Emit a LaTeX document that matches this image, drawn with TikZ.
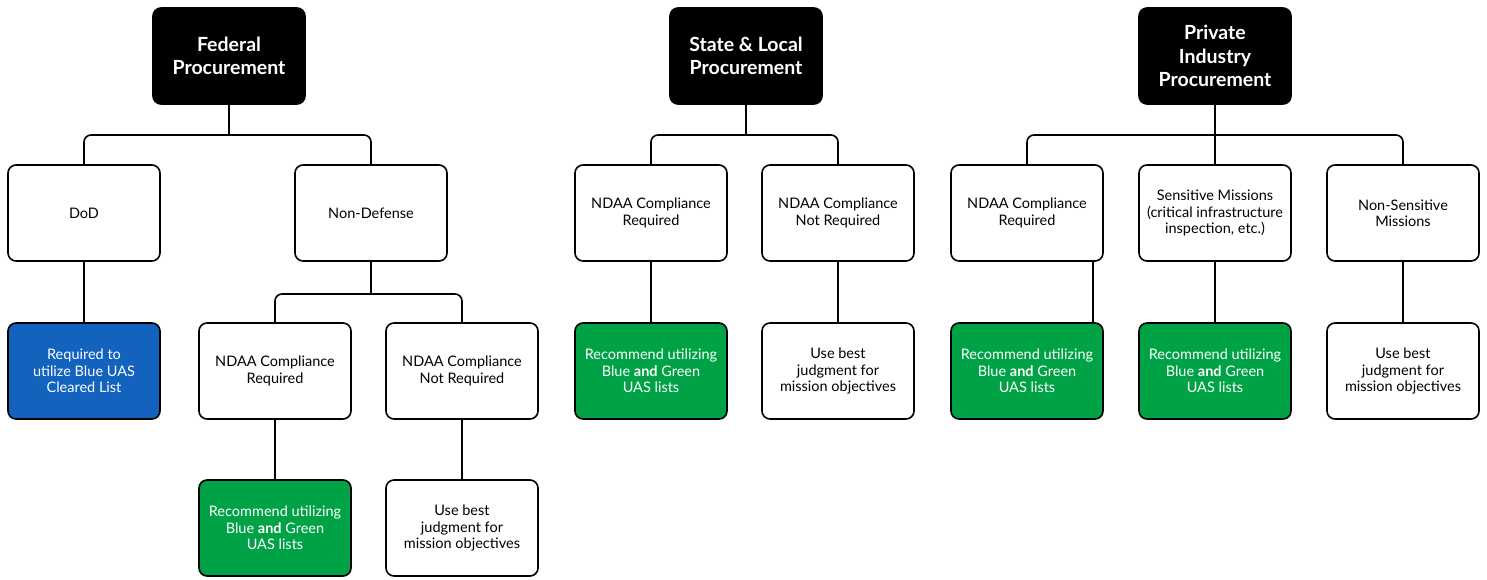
\documentclass[tikz,border=0pt]{standalone}
\usepackage{fontspec}
\setmainfont{Lato}
\definecolor{uasblue}{HTML}{1262BE}
\definecolor{uasgreen}{HTML}{00A246}
\begin{document}
\begin{tikzpicture}[x=1pt,y=-1pt,
  box/.style={draw=black, line width=1.6pt, rounded corners=8pt, fill=white,
    minimum width=152pt, minimum height=96pt, inner sep=2pt, align=center,
    text=black, font=\fontsize{14.5}{16.5}\selectfont},
  head/.style={box, fill=black, text=white, font=\bfseries\fontsize{19.5}{23.5}\selectfont},
  bluebox/.style={box, fill=uasblue, text=white},
  greenbox/.style={box, fill=uasgreen, text=white},
  conn/.style={draw=black, line width=1.6pt, rounded corners=7pt}]
\useasboundingbox (0,0) rectangle (1487,579);
% level 1
\node[head] (fed) at (229,56) {Federal\\Procurement};
\node[head] (sl) at (746,56) {State \& Local\\Procurement};
\node[head] (pi) at (1215,56) {Private\\Industry\\Procurement};
% level 2
\node[box] (dod) at (84,213) {DoD};
\node[box] (nd) at (371,213) {Non-Defense};
\node[box] (slr) at (651,213) {NDAA Compliance\\Required};
\node[box] (sln) at (838,213) {NDAA Compliance\\Not Required};
\node[box] (pr) at (1027,213) {NDAA Compliance\\Required};
\node[box] (ps) at (1215,213) {Sensitive Missions\\(critical infrastructure\\inspection, etc.)};
\node[box] (pns) at (1403,213) {Non-Sensitive\\Missions};
% level 3
\node[bluebox] (blue) at (84,371) {Required to\\utilize Blue UAS\\Cleared List};
\node[box] (ndr) at (275,371) {NDAA Compliance\\Required};
\node[box] (ndn) at (462,371) {NDAA Compliance\\Not Required};
\node[greenbox] (slg) at (651,371) {Recommend utilizing\\Blue \textbf{and} Green\\UAS lists};
\node[box] (slw) at (838,371) {Use best\\judgment for\\mission objectives};
\node[greenbox] (pg1) at (1027,371) {Recommend utilizing\\Blue \textbf{and} Green\\UAS lists};
\node[greenbox] (pg2) at (1215,371) {Recommend utilizing\\Blue \textbf{and} Green\\UAS lists};
\node[box] (pw) at (1403,371) {Use best\\judgment for\\mission objectives};
% level 4
\node[greenbox] (ndg) at (275,528) {Recommend utilizing\\Blue \textbf{and} Green\\UAS lists};
\node[box] (ndw) at (462,528) {Use best\\judgment for\\mission objectives};
% bar coordinates
\coordinate (fbar) at (229,135);
\coordinate (nbar) at (371,294);
\coordinate (sbar) at (746,135);
\coordinate (pbar) at (1215,135);
% connectors
\draw[conn] (fed.south) -- (fbar);
\draw[conn] (dod.north) |- (fbar) -| (nd.north);
\draw[conn] (nd.south) -- (nbar);
\draw[conn] (ndr.north) |- (nbar) -| (ndn.north);
\draw[conn] (dod.south) -- (blue.north);
\draw[conn] (ndr.south) -- (ndg.north);
\draw[conn] (ndn.south) -- (ndw.north);
\draw[conn] (sl.south) -- (sbar);
\draw[conn] (slr.north) |- (sbar) -| (sln.north);
\draw[conn] (slr.south) -- (slg.north);
\draw[conn] (sln.south) -- (slw.north);
\draw[conn] (pi.south) -- (ps.north);
\draw[conn] (pr.north) |- (pbar) -| (pns.north);
\draw[conn] ([xshift=-11pt]pr.south east) -- ([xshift=-11pt]pg1.north east);
\draw[conn] (ps.south) -- (pg2.north);
\draw[conn] (pns.south) -- (pw.north);
\end{tikzpicture}
\end{document}
